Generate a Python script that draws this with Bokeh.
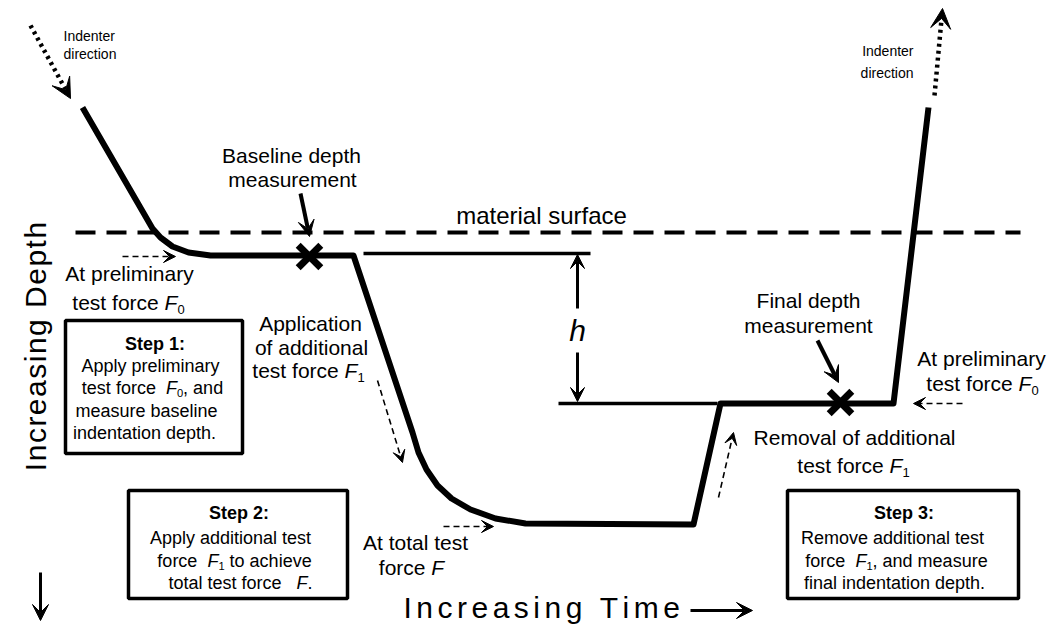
import math
from bokeh.plotting import figure
from bokeh.models import Range1d, Arrow, VeeHead, ColumnDataSource
from bokeh.core.properties import value, field
from bokeh.embed import file_html
from bokeh.resources import INLINE

# ---------------- data (diagram coordinates; y grows downward) ----------------
curve_x = [82, 152, 160, 172, 188, 210, 353, 412, 418, 426, 437, 451, 470, 495, 525, 693, 720, 893, 928]
curve_y = [107, 228, 237, 246, 252, 255, 255, 432, 452, 469, 485, 498, 509, 518, 523, 524, 403, 403, 107]
surface_x = [75, 1020]
surface_y = [232, 232]
ref_upper_x = [363, 590]
ref_upper_y = [253, 253]
ref_lower_x = [558, 717]
ref_lower_y = [403, 403]
mark_x = [309, 840]
mark_y = [256, 402]

# step boxes: left, right, top, bottom
box_left = [65, 128, 787]
box_right = [242, 347, 1018]
box_top = [320, 490, 490]
box_bottom = [453, 598, 598]

# arrows: x0, y0, x1, y1
dotted_arrows = [(30, 25, 70, 98), (934, 95, 942, 8)]
dashed_arrows = [(122, 256, 175, 256), (377, 380, 402, 462), (443, 526, 493, 526),
                 (718, 497, 733, 432), (962, 403, 913, 403)]
pointer_arrows = [(300, 193, 309, 236), (817, 340, 838, 382)]
h_arrows = [(577, 308, 577, 254), (577, 352, 577, 401)]
axis_arrows = [(690, 610, 752, 610), (40, 572, 40, 620)]

# text lines: (x, y, size, align, segments[(text, style)])
text_lines = [
    (63, 35, 14, "left", [("Indenter", "n")]),
    (63, 53, 14, "left", [("direction", "n")]),
    (913, 50, 14, "right", [("Indenter", "n")]),
    (913, 72, 14, "right", [("direction", "n")]),
    (291, 155, 21, "center", [("Baseline depth", "n")]),
    (292, 179, 21, "center", [("measurement", "n")]),
    (541, 215, 24, "center", [("material surface", "n")]),
    (129, 273, 21, "center", [("At preliminary", "n")]),
    (128, 302, 21, "center", [("test force ", "n"), ("F", "i"), ("0", "s")]),
    (310, 323, 21, "center", [("Application", "n")]),
    (311, 347, 21, "center", [("of additional", "n")]),
    (308, 370, 21, "center", [("test force ", "n"), ("F", "i"), ("1", "s")]),
    (577, 330, 30, "center", [("h", "i")]),
    (415, 542, 21, "center", [("At total test", "n")]),
    (411, 567, 21, "center", [("force ", "n"), ("F", "i")]),
    (808, 300, 21, "center", [("Final depth", "n")]),
    (808, 325, 21, "center", [("measurement", "n")]),
    (981, 358, 21, "center", [("At preliminary", "n")]),
    (982, 383, 21, "center", [("test force ", "n"), ("F", "i"), ("0", "s")]),
    (854, 437, 21, "center", [("Removal of additional", "n")]),
    (853, 465, 21, "center", [("test force ", "n"), ("F", "i"), ("1", "s")]),
    (153, 343, 18, "center", [("Step 1:", "b")]),
    (150, 365, 18, "center", [("Apply preliminary", "n")]),
    (152, 387, 18, "center", [("test force  ", "n"), ("F", "i"), ("0", "s"), (", and", "n")]),
    (146, 410, 18, "center", [("measure baseline", "n")]),
    (144, 432, 18, "center", [("indentation depth.", "n")]),
    (237, 512, 18, "center", [("Step 2:", "b")]),
    (230, 537, 18, "center", [("Apply additional test", "n")]),
    (234, 560, 18, "center", [("force  ", "n"), ("F", "i"), ("1", "s"), (" to achieve", "n")]),
    (240, 582, 18, "center", [("total test force   ", "n"), ("F", "i"), (".", "n")]),
    (902, 512, 18, "center", [("Step 3:", "b")]),
    (892, 537, 18, "center", [("Remove additional test", "n")]),
    (896, 560, 18, "center", [("force  ", "n"), ("F", "i"), ("1", "s"), (", and measure", "n")]),
    (894, 582, 18, "center", [("final indentation depth.", "n")]),
]
time_label = "Increasing Time"
depth_label = "Increasing Depth"

# ---------------- Arial / Liberation Sans advance widths ----------------
W = dict(zip("abcdefghijklmnopqrstuvwxyz",
             [556, 556, 500, 556, 556, 278, 556, 556, 222, 222, 500, 222, 833,
              556, 556, 556, 556, 333, 500, 278, 556, 500, 722, 500, 500, 500]))
W.update(dict(zip("ABCDEFGHIJKLMNOPQRSTUVWXYZ",
                  [667, 667, 722, 722, 667, 611, 778, 722, 278, 500, 667, 556, 833,
                   722, 778, 667, 778, 722, 667, 611, 722, 667, 944, 667, 667, 611])))
W.update({" ": 278, ".": 278, ",": 278, ":": 278})
for d in "0123456789":
    W[d] = 556


def seg_size(size, style):
    return size * 0.62 if style == "s" else size


def text_w(s, size):
    return sum(W.get(c, 556) for c in s) * size / 1000.0


FONT = "Liberation Sans"

p = figure(width=1050, height=630, x_range=Range1d(0, 1050), y_range=Range1d(630, 0),
           output_backend="svg", toolbar_location=None, min_border=0,
           x_axis_location=None, y_axis_location=None, background_fill_color="white",
           border_fill_color="white")
p.grid.visible = False
p.outline_line_color = None

# surface dashed line
p.line(surface_x, surface_y, line_color="black", line_width=4, line_dash="20 11")
# reference lines for h
p.line(ref_upper_x, ref_upper_y, line_color="black", line_width=3.5)
p.line(ref_lower_x, ref_lower_y, line_color="black", line_width=3.5)
# main curve
p.line(curve_x, curve_y, line_color="black", line_width=6, line_join="round")
# X marks
p.scatter(mark_x, mark_y, marker="x", size=32, line_width=7, line_color="black")
# boxes
p.quad(left=box_left, right=box_right, top=box_top, bottom=box_bottom,
       fill_color=None, line_color="black", line_width=3.5)


def add_arrow(a, width, dash, head):
    x0, y0, x1, y1 = a
    p.add_layout(Arrow(end=VeeHead(size=head, fill_color="black", line_color="black", line_width=1),
                       x_start=x0, y_start=y0, x_end=x1, y_end=y1,
                       line_color="black", line_width=width, line_dash=dash))


for a in dotted_arrows:
    add_arrow(a, 4.5, "3 4", 20)
for a in dashed_arrows:
    add_arrow(a, 1.6, "6 4", 12)
for a in pointer_arrows:
    add_arrow(a, 4, "solid", 16)
for a in h_arrows:
    add_arrow(a, 3, "solid", 14)
for a in axis_arrows:
    add_arrow(a, 3, "solid", 16)

# rich text
groups = {st: dict(x=[], y=[], t=[], fs=[]) for st in "nisb"}
for (x, y, size, align, segs) in text_lines:
    total = sum(text_w(t, seg_size(size, st)) for t, st in segs)
    if align == "center":
        cx = x - total / 2.0
    elif align == "right":
        cx = x - total
    else:
        cx = x
    for t, st in segs:
        s = seg_size(size, st)
        lead = len(t) - len(t.lstrip(" "))
        cx += text_w(" " * lead, s)
        body = t.strip(" ")
        if body:
            g = groups[st]
            g["x"].append(cx)
            g["y"].append(y + (size * 0.32 if st == "s" else 0))
            g["t"].append(body)
            g["fs"].append("%.1fpx" % s)
        cx += text_w(t.lstrip(" "), s)

for st, g in groups.items():
    if not g["x"]:
        continue
    src = ColumnDataSource(g)
    p.text(x="x", y="y", text="t", source=src, text_font=value(FONT),
           text_font_size=field("fs"), text_align="left", text_baseline="middle",
           text_color="black",
           text_font_style=("italic" if st == "i" else "bold" if st == "b" else "normal"))

# letter-spaced axis labels (one glyph per character)
AX_SIZE = 30
TRACK_T = 4.5
TRACK_D = 1.5
tx, ty, tt = [], [], []
cx = 403
for ch in time_label:
    if ch != " ":
        tx.append(cx); ty.append(607); tt.append(ch)
    cx += text_w(ch, AX_SIZE) + TRACK_T
p.text(x=tx, y=ty, text=tt, text_font=value(FONT), text_font_size="%dpx" % AX_SIZE,
       text_align="left", text_baseline="middle", text_color="black")

dx, dy, dt = [], [], []
total_d = sum(text_w(ch, AX_SIZE) + TRACK_D for ch in depth_label) - TRACK_D
cy = 346 + total_d / 2.0
for ch in depth_label:
    if ch != " ":
        dx.append(35); dy.append(cy); dt.append(ch)
    cy -= text_w(ch, AX_SIZE) + TRACK_D
p.text(x=dx, y=dy, text=dt, angle=math.pi / 2, text_font=value(FONT),
       text_font_size="%dpx" % AX_SIZE, text_align="left", text_baseline="middle",
       text_color="black")

open("out.html", "w").write(file_html(p, INLINE))
